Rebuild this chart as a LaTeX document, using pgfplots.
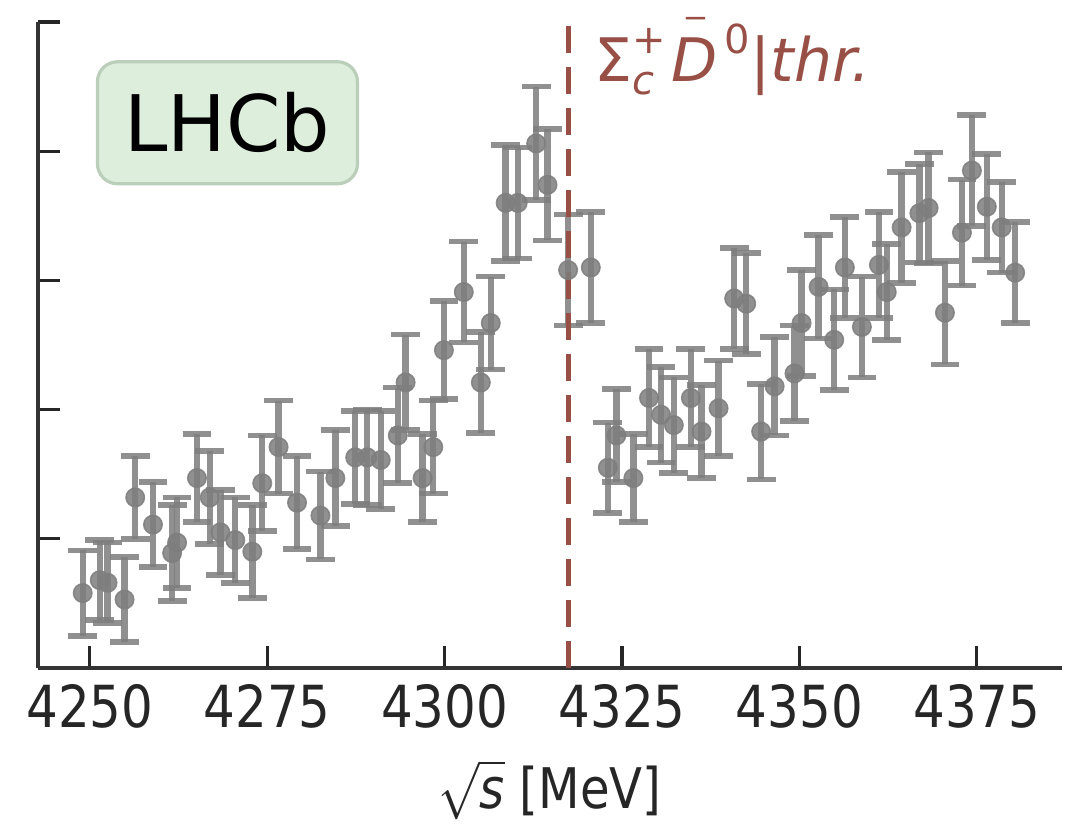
\documentclass[border=0pt]{standalone}
\usepackage{fontspec}
\setmainfont{DejaVu Sans}
\usepackage{amsmath}
\usepackage{graphicx}
\usepackage{pgfplots}
\usepackage{pgfplotstable}
\pgfplotsset{compat=1.18}

\definecolor{ptgray}{RGB}{125,125,125}
\definecolor{thrbrown}{RGB}{152,80,70}
\definecolor{boxfill}{RGB}{221,239,220}
\definecolor{boxedge}{RGB}{186,206,186}

\newcommand{\nl}[1]{\scalebox{0.86}[1]{#1}}

% x [MeV], y (arb.), error
\pgfplotstableread{
x      y     ey
4249.0 0.58 0.33
4251.4 0.68 0.31
4252.5 0.66 0.31
4254.9 0.53 0.33
4256.4 1.32 0.32
4258.9 1.11 0.33
4261.6 0.89 0.37
4262.3 0.97 0.35
4265.1 1.47 0.34
4266.9 1.32 0.36
4268.4 1.05 0.33
4270.5 0.99 0.33
4272.9 0.90 0.36
4274.3 1.43 0.37
4276.6 1.71 0.36
4279.2 1.28 0.36
4282.5 1.18 0.34
4284.6 1.47 0.37
4287.4 1.63 0.36
4289.1 1.63 0.37
4291.0 1.61 0.38
4293.4 1.80 0.37
4294.5 2.21 0.37
4296.9 1.47 0.34
4298.4 1.71 0.36
4299.9 2.46 0.38
4302.7 2.91 0.39
4305.1 2.21 0.39
4306.5 2.67 0.36
4308.6 3.60 0.45
4310.3 3.60 0.43
4312.9 4.06 0.44
4314.5 3.74 0.43
4317.4 3.08 0.43
4320.6 3.10 0.43
4323.0 1.55 0.35
4324.2 1.80 0.36
4326.6 1.47 0.34
4328.8 2.09 0.38
4330.5 1.96 0.37
4332.3 1.88 0.37
4334.7 2.09 0.38
4336.2 1.83 0.36
4338.6 2.01 0.37
4340.8 2.86 0.39
4342.5 2.82 0.39
4344.6 1.83 0.37
4346.5 2.18 0.38
4349.3 2.28 0.37
4350.3 2.67 0.41
4352.7 2.95 0.40
4354.9 2.54 0.39
4356.4 3.10 0.39
4358.8 2.64 0.39
4361.2 3.12 0.41
4362.3 2.91 0.37
4364.4 3.41 0.43
4366.9 3.52 0.38
4368.2 3.56 0.43
4370.5 2.75 0.40
4372.9 3.37 0.41
4374.3 3.85 0.43
4376.4 3.57 0.41
4378.5 3.41 0.35
4380.4 3.06 0.39
}\lhcbdata

\begin{document}
\begin{tikzpicture}
\useasboundingbox (-9.5pt,-39pt) rectangle (257pt,167pt);
\begin{axis}[
    scale only axis,
    width=256pt, height=161.5pt,
    xmin=4242.7, xmax=4387.0,
    ymin=0, ymax=5,
    axis x line*=bottom,
    axis y line*=left,
    axis line style={line width=1pt, black!80},
    tick align=inside,
    major tick length=5.5pt,
    tick style={line width=0.8pt, black!85},
    xtick={4250,4275,4300,4325,4350,4375},
    xticklabels={\nl{4250},\nl{4275},\nl{4300},\nl{4325},\nl{4350},\nl{4375}},
    ytick={0,1,2,3,4,5},
    yticklabels={},
    ticklabel style={font=\fontsize{14.5}{17}\selectfont, text=black!85},
    xticklabel style={yshift=-0.5pt},
    xlabel={\nl{$\sqrt{\text{\itshape s}}$ [MeV]}},
    xlabel style={font=\fontsize{14}{17}\selectfont, text=black!85, yshift=-1pt},
    clip=false,
]
\addplot[only marks, mark=*, mark size=2.3pt,
    color=ptgray, opacity=0.85,
    mark options={fill=ptgray, draw=ptgray},
    error bars/.cd, y dir=both, y explicit,
    error bar style={line width=1.6pt, color=ptgray},
    error mark options={rotate=90, mark size=3.6pt, line width=1.4pt, color=ptgray}]
    table[x=x, y=y, y error=ey] {\lhcbdata};

\draw[thrbrown, line width=1.25pt, dash pattern=on 6.75pt off 3.5pt]
    (axis cs:4317.4,0) -- (axis cs:4317.4,5.05);
\node[anchor=base west, text=thrbrown, font=\fontsize{15}{18}\selectfont, inner sep=0pt]
    at (axis cs:4321.0,4.54)
    {Σ\rlap{\raisebox{-0.4ex}{\fontsize{10}{12}\selectfont\itshape c}}\raisebox{0.85ex}{\fontsize{10}{12}\selectfont +}\kern1.5pt\itshape D\kern-8.5pt\raisebox{1.6ex}{\upshape\fontsize{9}{10}\selectfont\char"2012}\kern4.5pt\raisebox{0.85ex}{\upshape\fontsize{10}{12}\selectfont 0}\upshape|\itshape thr.};

\node[draw=boxedge, line width=0.8pt, fill=boxfill, rounded corners=5pt,
    minimum width=65pt, minimum height=30.5pt, inner sep=0pt,
    font=\fontsize{19.5}{22}\selectfont] at (axis cs:4269.4,4.22) {LHCb};
\end{axis}
\end{tikzpicture}
\end{document}
